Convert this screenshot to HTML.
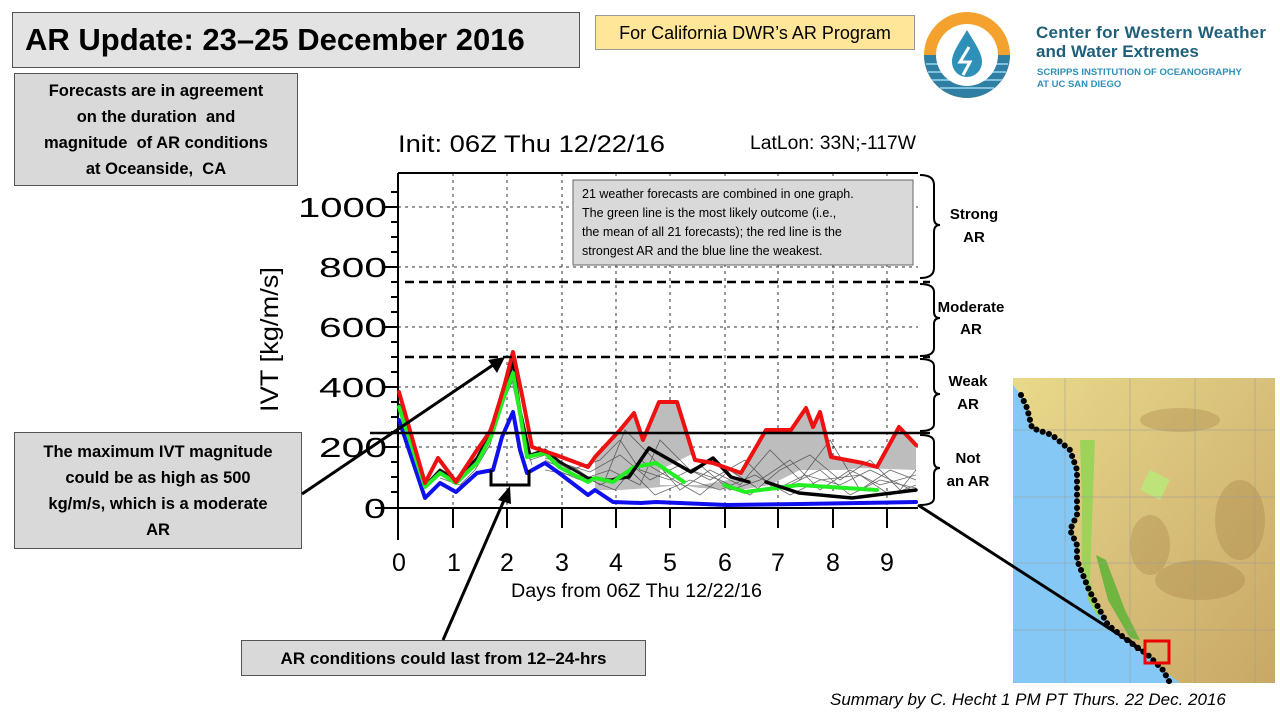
<!DOCTYPE html>
<html><head><meta charset="utf-8"><style>
body{margin:0;width:1280px;height:720px;background:#fff;overflow:hidden;position:relative;font-family:"Liberation Sans",sans-serif}
.box{position:absolute;border:1px solid #555;box-sizing:border-box;background:#d9d9d9;text-align:center;color:#000}
</style></head><body>
<div class="box" style="left:12px;top:12px;width:568px;height:56px;font-size:31px;font-weight:bold;line-height:54px;text-align:left;padding-left:12px;background:#e3e3e3">AR Update: 23–25 December 2016</div>
<div class="box" style="left:595px;top:15px;width:320px;height:35px;background:#ffe699;font-size:18px;line-height:34px;border-color:#999">For California DWR’s AR Program</div>
<div class="box" style="left:14px;top:73px;width:284px;height:113px;font-size:16.5px;font-weight:bold;line-height:26px;padding-top:4px">Forecasts are in agreement<br>on the duration&nbsp; and<br>magnitude&nbsp; of AR conditions<br>at Oceanside,&nbsp; CA</div>
<div class="box" style="left:14px;top:432px;width:288px;height:117px;font-size:16.5px;font-weight:bold;line-height:26px;padding-top:6px">The maximum IVT magnitude<br>could be as high as 500<br>kg/m/s, which is a moderate<br>AR</div>
<div class="box" style="left:241px;top:640px;width:405px;height:36px;font-size:17px;font-weight:bold;line-height:35px">AR conditions could last from 12–24-hrs</div>
<div style="position:absolute;left:830px;top:690px;font-size:17px;font-style:italic">Summary by C. Hecht 1 PM PT Thurs. 22 Dec. 2016</div>

<svg style="position:absolute;left:0;top:0" width="1280" height="720">
<circle cx="967" cy="55" r="43" fill="#f4a22d"/>
<path d="M924,55 A43,43 0 0 0 1010,55 Z" fill="#2e7fa3"/>
<g stroke="#7fc0dc" stroke-width="2"><line x1="926" y1="64" x2="1008" y2="64"/><line x1="928" y1="72" x2="1006" y2="72"/><line x1="932" y1="80" x2="1002" y2="80"/><line x1="940" y1="88" x2="994" y2="88"/></g>
<circle cx="967" cy="55" r="31" fill="#fff"/>
<path d="M967,30 C958,45 952,53 952,62 A15,15 0 0 0 982,62 C982,53 976,45 967,30 Z" fill="#2e8fb8"/>
<path d="M969,47 L960,62 L970,62 L963,75" stroke="#fff" stroke-width="3" fill="none"/>
<text x="1036" y="38" font-size="17" fill="#1f5f7a" font-weight="bold" textLength="230">Center for Western Weather</text>
<text x="1036" y="57" font-size="17" fill="#1f5f7a" font-weight="bold">and Water Extremes</text>
<text x="1037" y="75" font-size="9.5" fill="#2e8fb8" font-weight="bold">SCRIPPS INSTITUTION OF OCEANOGRAPHY</text>
<text x="1037" y="87" font-size="9.5" fill="#2e8fb8" font-weight="bold">AT UC SAN DIEGO</text>

<text x="398" y="152" font-size="24" textLength="267" lengthAdjust="spacingAndGlyphs">Init: 06Z Thu 12/22/16</text>
<text x="750" y="149" font-size="19" textLength="166" lengthAdjust="spacingAndGlyphs">LatLon: 33N;-117W</text>
<text x="511" y="597" font-size="19" textLength="251" lengthAdjust="spacingAndGlyphs">Days from 06Z Thu 12/22/16</text>
<text transform="translate(278,412) rotate(-90)" font-size="25" textLength="145" lengthAdjust="spacingAndGlyphs">IVT [kg/m/s]</text>
<g font-size="28">
<text x="298" y="217" textLength="89" lengthAdjust="spacingAndGlyphs">1000</text>
<text x="319" y="277" textLength="68" lengthAdjust="spacingAndGlyphs">800</text>
<text x="319" y="337" textLength="68" lengthAdjust="spacingAndGlyphs">600</text>
<text x="319" y="397" textLength="68" lengthAdjust="spacingAndGlyphs">400</text>
<text x="319" y="457" textLength="68" lengthAdjust="spacingAndGlyphs">200</text>
<text x="364" y="518" textLength="22" lengthAdjust="spacingAndGlyphs">0</text></g>
<g font-size="25" text-anchor="middle">
<text x="399" y="571">0</text><text x="454" y="571">1</text><text x="507" y="571">2</text><text x="562" y="571">3</text><text x="616" y="571">4</text><text x="670" y="571">5</text><text x="725" y="571">6</text><text x="778" y="571">7</text><text x="833" y="571">8</text><text x="887" y="571">9</text></g>

<g stroke="#333" stroke-width="1" stroke-dasharray="3,4">
<line x1="453" y1="173" x2="453" y2="508"/><line x1="507" y1="173" x2="507" y2="508"/><line x1="562" y1="173" x2="562" y2="508"/><line x1="616" y1="173" x2="616" y2="508"/><line x1="670" y1="173" x2="670" y2="508"/><line x1="725" y1="173" x2="725" y2="508"/><line x1="778" y1="173" x2="778" y2="508"/><line x1="833" y1="173" x2="833" y2="508"/><line x1="887" y1="173" x2="887" y2="508"/>
<line x1="398" y1="207" x2="918" y2="207"/><line x1="398" y1="267" x2="918" y2="267"/><line x1="398" y1="327" x2="918" y2="327"/><line x1="398" y1="387" x2="918" y2="387"/><line x1="398" y1="447" x2="918" y2="447"/>
</g>
<g stroke="#000" stroke-width="2" fill="none">
<line x1="398" y1="173" x2="918" y2="173"/>
<line x1="398" y1="173" x2="398" y2="540"/>
<line x1="375" y1="508" x2="918" y2="508"/>
</g>
<g stroke="#000" stroke-width="2">
<line x1="391" y1="192" x2="398" y2="192"/><line x1="385" y1="207" x2="398" y2="207"/><line x1="391" y1="222" x2="398" y2="222"/><line x1="391" y1="237" x2="398" y2="237"/><line x1="391" y1="252" x2="398" y2="252"/><line x1="385" y1="267" x2="398" y2="267"/><line x1="391" y1="282" x2="398" y2="282"/><line x1="391" y1="297" x2="398" y2="297"/><line x1="391" y1="312" x2="398" y2="312"/><line x1="385" y1="327" x2="398" y2="327"/><line x1="391" y1="342" x2="398" y2="342"/><line x1="391" y1="357" x2="398" y2="357"/><line x1="391" y1="372" x2="398" y2="372"/><line x1="385" y1="387" x2="398" y2="387"/><line x1="391" y1="402" x2="398" y2="402"/><line x1="391" y1="417" x2="398" y2="417"/><line x1="391" y1="432" x2="398" y2="432"/><line x1="385" y1="447" x2="398" y2="447"/><line x1="391" y1="462" x2="398" y2="462"/><line x1="391" y1="477" x2="398" y2="477"/><line x1="391" y1="492" x2="398" y2="492"/>
<line x1="453" y1="508" x2="453" y2="528"/><line x1="507" y1="508" x2="507" y2="528"/><line x1="562" y1="508" x2="562" y2="528"/><line x1="616" y1="508" x2="616" y2="528"/><line x1="670" y1="508" x2="670" y2="528"/><line x1="725" y1="508" x2="725" y2="528"/><line x1="778" y1="508" x2="778" y2="528"/><line x1="833" y1="508" x2="833" y2="528"/><line x1="887" y1="508" x2="887" y2="528"/>
</g>

<polygon fill="#bdbdbd" points="595,457 620,430 634,413 643,440 659,402 677,402 695,460 713,463 741,473 766,430 791,430 806,408 813,427 820,412 831,457 863,463 877,467 899,427 916,445 916,480 880,478 850,470 830,470 800,470 770,485 740,490 700,488 680,485 650,488 620,490 595,490"/>
<polygon fill="#fff" points="660,470 690,455 720,465 740,478 700,485 660,485"/>
<polygon fill="#fff" points="800,475 860,468 916,470 916,483 860,485 800,488"/>
<g stroke="#444" stroke-width="0.8" fill="none" opacity="0.8">
<polyline points="545,455 570,470 600,460 620,440 640,470 670,480 700,465 730,490 760,480 790,460 820,490 850,470 880,485 916,475"/>
<polyline points="545,460 575,475 605,480 625,430 650,455 680,490 710,470 740,485 770,450 800,480 830,440 860,490 890,470 916,480"/>
<polyline points="545,465 580,480 610,470 640,485 660,440 690,470 720,480 750,495 780,470 810,455 840,480 870,460 900,490 916,470"/>
<polyline points="545,470 585,478 615,490 640,460 665,475 700,495 730,470 760,490 790,485 820,470 850,495 880,480 916,488"/>
<polyline points="545,458 590,472 620,455 650,480 680,465 710,480 745,460 775,490 805,475 840,485 870,470 916,492"/>
<polyline points="545,462 575,468 600,485 630,470 655,495 690,480 720,490 755,475 790,495 820,480 860,475 890,495 916,485"/>
<polyline points="440,470 455,480 470,460 485,440 500,400 510,370 520,420 530,460 545,455"/>
<polyline points="440,478 460,485 475,470 490,445 502,405 513,380 522,430 532,465"/>
</g>

<g fill="none" stroke-linejoin="round" stroke-linecap="round">
<polyline stroke="#1010ee" stroke-width="4" points="399,420 425,498 440,483 456,492 477,473 493,470 502,437 513,412 520,450 527,473 545,463 559,473 588,495 595,490 613,502 641,503 656,502 727,505 800,504 916,502"/>
<polyline stroke="#111" stroke-width="3" points="399,405 425,486 440,470 456,480 477,458 491,432 504,395 513,362 520,410 530,455 545,450 560,462 588,478 610,480 629,477"/>
<polyline stroke="#22ee22" stroke-width="4" points="399,407 425,487 440,473 456,483 477,463 491,437 504,397 513,373 520,413 527,457 545,453 559,467 588,482 595,478 613,482 634,467 656,463 684,482"/>
<polyline stroke="#22ee22" stroke-width="4" points="724,485 745,492 799,485 877,490"/>
<polyline stroke="#000" stroke-width="3.5" points="629,477 649,448 670,460 691,472 713,458 731,477 749,482"/>
<polyline stroke="#000" stroke-width="3.5" points="766,482 799,493 852,498 916,490"/>
<polyline stroke="#ee1111" stroke-width="4" points="399,392 425,483 438,458 456,482 477,450 491,430 504,387 513,352 522,395 532,447 556,455 588,467 595,457 620,430 634,413 643,440 659,402 677,402 695,460 713,463 741,473 766,430 791,430 806,408 813,427 820,412 831,457 863,463 877,467 899,427 916,445"/>
</g>

<g stroke="#000" stroke-width="2.5">
<line x1="405" y1="282" x2="930" y2="282" stroke-dasharray="9,5"/>
<line x1="405" y1="357" x2="930" y2="357" stroke-dasharray="9,5"/>
<line x1="370" y1="433" x2="930" y2="433"/>
</g>

<rect x="573" y="180" width="340" height="85" fill="#d9d9d9" stroke="#666"/>
<g font-size="12.5"><text x="582" y="198">21 weather forecasts are combined in one graph.</text><text x="582" y="217">The green line is the most likely outcome (i.e.,</text><text x="582" y="236">the mean of all 21 forecasts); the red line is the</text><text x="582" y="255">strongest AR and the blue line the weakest.</text></g>

<g stroke="#000" stroke-width="2" fill="none">
<path d="M920,175 Q934,175 934,185 L934,218 Q934,225 940,225 Q934,225 934,232 L934,268 Q934,278 920,278"/>
<path d="M920,284 Q934,284 934,292 L934,312 Q934,318 940,318 Q934,318 934,324 L934,348 Q934,356 920,356"/>
<path d="M920,359 Q934,359 934,366 L934,388 Q934,394 940,394 Q934,394 934,400 L934,424 Q934,431 920,431"/>
<path d="M920,435 Q934,435 934,442 L934,462 Q934,468 940,468 Q934,468 934,474 L934,498 Q934,505 920,505"/>
</g>
<g font-size="15" font-weight="bold" text-anchor="middle">
<text x="974" y="219">Strong</text><text x="974" y="242">AR</text>
<text x="971" y="312">Moderate</text><text x="971" y="334">AR</text>
<text x="968" y="386">Weak</text><text x="968" y="409">AR</text>
<text x="968" y="463">Not</text><text x="968" y="486">an AR</text>
</g>

<defs><linearGradient id="land" x1="0" y1="0" x2="1" y2="1"><stop offset="0" stop-color="#e9d98a"/><stop offset="0.5" stop-color="#d8c07a"/><stop offset="1" stop-color="#c9a865"/></linearGradient></defs>
<rect x="1013" y="378" width="262" height="305" fill="#85c8f5"/>
<polygon fill="url(#land)" points="1013,378 1275,378 1275,683 1180,683 1163,670 1148,655 1127,640 1108,625 1097,605 1089,590 1083,575 1077,560 1077,545 1070,530 1077,515 1077,470 1070,450 1052,435 1032,428 1027,408 1021,395 1013,385"/>
<polygon fill="#9ed35a" points="1080,440 1095,440 1092,520 1090,580 1100,620 1088,600 1082,560 1082,500"/>
<polygon fill="#6fb540" points="1096,555 1106,560 1125,610 1140,640 1130,638 1108,600"/>
<polygon fill="#bde37a" points="1150,470 1170,480 1160,500 1140,490"/>
<g fill="#a07a40" opacity="0.3">
<ellipse cx="1180" cy="420" rx="40" ry="12"/><ellipse cx="1240" cy="520" rx="25" ry="40"/><ellipse cx="1200" cy="580" rx="45" ry="20"/><ellipse cx="1150" cy="545" rx="20" ry="30"/>
</g>
<g stroke="#999" stroke-width="0.7" opacity="0.7">
<line x1="1013" y1="430" x2="1275" y2="430"/><line x1="1013" y1="497" x2="1275" y2="497"/><line x1="1013" y1="563" x2="1275" y2="563"/><line x1="1013" y1="630" x2="1275" y2="630"/>
<line x1="1065" y1="378" x2="1065" y2="683"/><line x1="1130" y1="378" x2="1130" y2="683"/><line x1="1195" y1="378" x2="1195" y2="683"/><line x1="1255" y1="378" x2="1255" y2="683"/>
</g>
<polyline fill="none" stroke="#000" stroke-width="6" stroke-dasharray="0.1,6.5" stroke-linecap="round" points="1021,395 1027,408 1032,428 1052,435 1070,450 1077,470 1077,515 1070,530 1077,545 1077,560 1083,575 1089,590 1097,605 1108,625 1127,640 1148,655 1163,670 1170,683"/>
<rect x="1145" y="641" width="24" height="22" fill="none" stroke="#e00" stroke-width="3"/>

<g stroke="#000" stroke-width="3" fill="none">
<line x1="302" y1="494" x2="496" y2="363"/>
<polyline points="491,470 491,485 529,485 529,470"/>
<line x1="443" y1="640" x2="505" y2="498"/>
<line x1="918" y1="505" x2="1135" y2="645"/>
</g>
<g fill="#000">
<polygon points="505,357 488,360 497,373"/>
<polygon points="510,486 498,500 511,504"/>
<polygon points="1144,651 1128,637 1136,651 1124,651"/>
</g>
</svg>
</body></html>
